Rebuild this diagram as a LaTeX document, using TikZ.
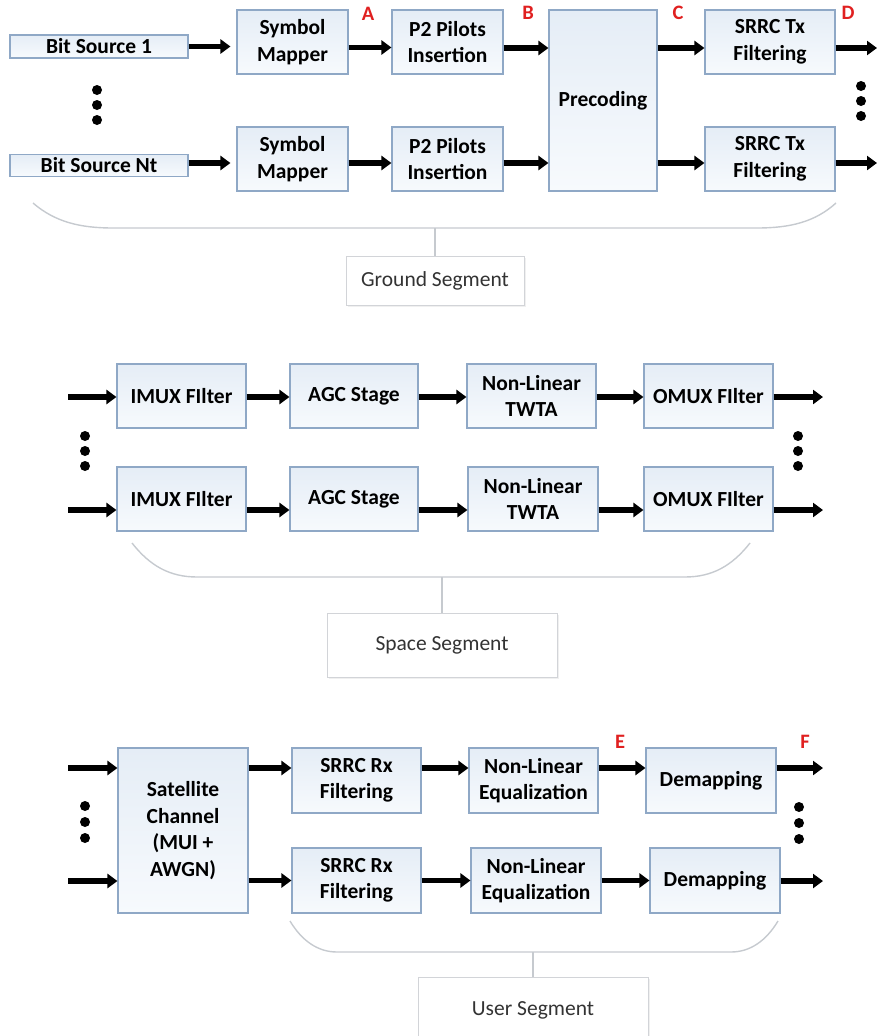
\documentclass[tikz,border=0pt]{standalone}
\usepackage{fontspec}
\setmainfont{Carlito}
\usetikzlibrary{arrows.meta,shadows}
\definecolor{boxtop}{HTML}{E5EDF6}
\definecolor{boxbot}{HTML}{F7FAFD}
\definecolor{boxline}{HTML}{8FA8C6}
\definecolor{bracecol}{HTML}{C6CACF}
\definecolor{lblred}{HTML}{E02020}
\definecolor{segtext}{HTML}{333333}
\definecolor{segline}{HTML}{D2D4D8}
\begin{document}
\begin{tikzpicture}[x=1pt,y=-1pt,
  blk/.style={draw=boxline, line width=1.1pt, top color=boxtop, bottom color=boxbot,
    inner sep=0pt, align=center, font=\bfseries\fontsize{21.5}{26.5}\selectfont},
  arr/.style={line width=5.5pt, -{Triangle[length=10pt,width=14pt]}},
  lbl/.style={text=lblred, font=\bfseries\fontsize{20.5}{24}\selectfont, inner sep=0pt},
  brace/.style={draw=bracecol, line width=1.4pt},
  seg/.style={draw=segline, fill=white, line width=0.9pt, text=segtext,
    font=\fontsize{21.5}{24}\selectfont, inner sep=0pt,
    drop shadow={opacity=0.12, shadow xshift=1.5pt, shadow yshift=-2pt}},
  stem/.style={draw=bracecol, line width=1.2pt},
  dotc/.style={fill=black}
]
\useasboundingbox (0,0) rectangle (877,1036);

% ---------------- Ground segment ----------------
\node[blk, minimum width=178pt, minimum height=23pt] (bs1) at (99,46.5) {Bit Source 1};
\node[blk, minimum width=178pt, minimum height=22pt] (bsN) at (99,165.5) {Bit Source Nt};
\node[blk, minimum width=111pt, minimum height=64pt] (sm1) at (292.5,42) {Symbol\\Mapper};
\node[blk, minimum width=111pt, minimum height=64pt] (sm2) at (292.5,159) {Symbol\\Mapper};
\node[blk, minimum width=111pt, minimum height=64pt] (p21) at (447.5,42) {P2 Pilots\\Insertion};
\node[blk, minimum width=111pt, minimum height=64pt] (p22) at (447.5,159) {P2 Pilots\\Insertion};
\node[blk, minimum width=108pt, minimum height=181pt] (pre) at (603,100.5) {Precoding};
\node[blk, minimum width=130pt, minimum height=64pt] (tx1) at (770,42) {SRRC Tx\\Filtering};
\node[blk, minimum width=130pt, minimum height=64pt] (tx2) at (770,159) {SRRC Tx\\Filtering};

\coordinate (gout1) at (877,48);
\coordinate (gout2) at (877,163);

\draw[arr, shorten >=6pt] (bs1.east) -- (bs1.east -| sm1.west);
\draw[arr, shorten >=6pt] ([yshift=2.5pt]bsN.east) -- ([yshift=2.5pt]bsN.east -| sm2.west);
\draw[arr] ([yshift=-5.5pt]sm1.east) -- ([yshift=-5.5pt]p21.west);
\draw[arr] ([yshift=-4pt]sm2.east) -- ([yshift=-4pt]p22.west);
\draw[arr] ([yshift=-6pt]p21.east) -- ([yshift=-6pt]p21.east -| pre.west);
\draw[arr] ([yshift=-4pt]p22.east) -- ([yshift=-4pt]p22.east -| pre.west);
\draw[arr] ([yshift=-6pt]tx1.west -| pre.east) -- ([yshift=-6pt]tx1.west);
\draw[arr] ([yshift=-4pt]tx2.west -| pre.east) -- ([yshift=-4pt]tx2.west);
\draw[arr] ([yshift=-6pt]tx1.east) -- (gout1);
\draw[arr] ([yshift=-4pt]tx2.east) -- (gout2);

\node[lbl] (lA) at (368,14) {A};
\node[lbl] (lB) at (528,13) {B};
\node[lbl] (lC) at (678,13) {C};
\node[lbl] (lD) at (848,13) {D};

\fill[dotc] (97,90) circle (5pt) (97,105) circle (5pt) (97,120) circle (5pt);
\fill[dotc] (861,86) circle (5pt) (861,101) circle (5pt) (861,116) circle (5pt);

\draw[brace] (33,203) .. controls (55,222) and (80,228) .. (113,228) -- (757,228)
  .. controls (790,228) and (815,222) .. (836,203);
\coordinate (gb) at (435,228);
\node[seg, minimum width=178pt, minimum height=49pt] (gseg) at (435,280.5) {Ground Segment};
\draw[stem] (gb) -- (gseg.north);

% ---------------- Space segment ----------------
\node[blk, minimum width=129pt, minimum height=64pt] (im1) at (181.5,396) {IMUX FIlter};
\node[blk, minimum width=129pt, minimum height=64pt] (im2) at (181.5,499) {IMUX FIlter};
\node[blk, minimum width=128pt, minimum height=64pt] (ag1) at (354,396) {AGC Stage};
\node[blk, minimum width=128pt, minimum height=64pt] (ag2) at (354,499) {AGC Stage};
\node[blk, minimum width=129pt, minimum height=64pt] (tw1) at (531.5,396) {Non-Linear\\TWTA};
\node[blk, minimum width=130pt, minimum height=64pt] (tw2) at (533,499) {Non-Linear\\TWTA};
\node[blk, minimum width=129pt, minimum height=64pt] (om1) at (708.5,396) {OMUX FIlter};
\node[blk, minimum width=129pt, minimum height=64pt] (om2) at (708.5,499) {OMUX FIlter};

\coordinate (sin1) at (68,397);
\coordinate (sin2) at (68,510);
\coordinate (sout1) at (823,397);
\coordinate (sout2) at (823,510);

\draw[arr] (sin1) -- (sin1 -| im1.west);
\draw[arr] (sin2) -- (sin2 -| im2.west);
\draw[arr] ([yshift=-1pt]im1.east) -- ([yshift=-1pt]ag1.west);
\draw[arr] ([yshift=-11pt]im2.east) -- ([yshift=-11pt]ag2.west);
\draw[arr] ([yshift=-1pt]ag1.east) -- ([yshift=-1pt]tw1.west);
\draw[arr] ([yshift=-11pt]ag2.east) -- ([yshift=-11pt]ag2.east -| tw2.west);
\draw[arr] ([yshift=-1pt]tw1.east) -- ([yshift=-1pt]om1.west);
\draw[arr] ([yshift=-11pt]tw2.east) -- ([yshift=-11pt]tw2.east -| om2.west);
\draw[arr] (sout1 -| om1.east) -- (sout1);
\draw[arr] (sout2 -| om2.east) -- (sout2);

\fill[dotc] (85,436) circle (5pt) (85,451) circle (5pt) (85,466) circle (5pt);
\fill[dotc] (798,436) circle (5pt) (798,451) circle (5pt) (798,466) circle (5pt);

\draw[brace] (132,543) .. controls (150,566) and (170,577) .. (197,577) -- (685,577)
  .. controls (712,577) and (732,566) .. (750,543);
\coordinate (sb) at (442,577);
\node[seg, minimum width=230pt, minimum height=64pt] (sseg) at (442,645) {Space Segment};
\draw[stem] (sb) -- (sseg.north);

% ---------------- User segment ----------------
\node[blk, minimum width=130pt, minimum height=165pt] (sat) at (183,830.5) {Satellite\\Channel\\(MUI +\\AWGN)};
\node[blk, minimum width=129pt, minimum height=65pt] (rx1) at (356.5,780.5) {SRRC Rx\\Filtering};
\node[blk, minimum width=129pt, minimum height=65pt] (rx2) at (356.5,880.5) {SRRC Rx\\Filtering};
\node[blk, minimum width=129pt, minimum height=65pt] (eq1) at (533.5,780.5) {Non-Linear\\Equalization};
\node[blk, minimum width=130pt, minimum height=65pt] (eq2) at (536,880.5) {Non-Linear\\Equalization};
\node[blk, minimum width=130pt, minimum height=65pt] (dm1) at (711,780.5) {Demapping};
\node[blk, minimum width=130pt, minimum height=65pt] (dm2) at (715,880.5) {Demapping};

\coordinate (uin1) at (68,768);
\coordinate (uin2) at (68,881);
\coordinate (uout1) at (823,768);
\coordinate (uout2) at (823,881);

\draw[arr] (uin1) -- (uin1 -| sat.west);
\draw[arr] (uin2) -- (uin2 -| sat.west);
\draw[arr] ([yshift=12.5pt]rx1.west -| sat.east) -- ([yshift=12.5pt]rx1.west);
\draw[arr] (rx2.west -| sat.east) -- (rx2.west);
\draw[arr] ([yshift=12.5pt]rx1.east) -- ([yshift=12.5pt]eq1.west);
\draw[arr] (rx2.east) -- (eq2.west);
\draw[arr] ([yshift=12.5pt]eq1.east) -- ([yshift=12.5pt]dm1.west);
\draw[arr] (eq2.east) -- (dm2.west);
\draw[arr] (uout1 -| dm1.east) -- (uout1);
\draw[arr] (uout2 -| dm2.east) -- (uout2);

\node[lbl] (lE) at (620,742) {E};
\node[lbl] (lF) at (805,742) {F};

\fill[dotc] (85,806) circle (5pt) (85,822) circle (5pt) (85,838) circle (5pt);
\fill[dotc] (799,807) circle (5pt) (799,823) circle (5pt) (799,839) circle (5pt);

\draw[brace] (290,921) .. controls (302,941) and (318,952) .. (337,952) -- (731,952)
  .. controls (750,952) and (766,941) .. (778,921);
\coordinate (ub) at (533,952);
\node[seg, minimum width=230pt, minimum height=66pt] (useg) at (533,1010) {User Segment};
\draw[stem] (ub) -- (useg.north);

\end{tikzpicture}
\end{document}
